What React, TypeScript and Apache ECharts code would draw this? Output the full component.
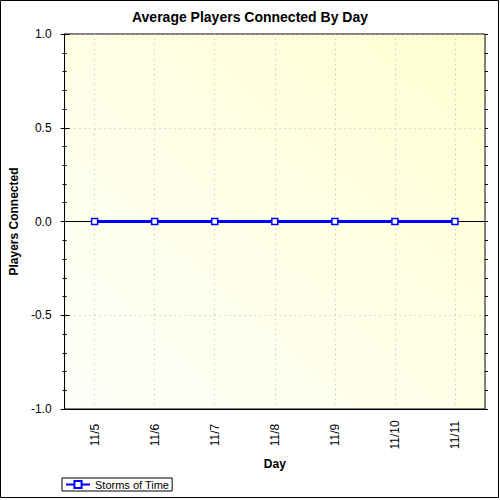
import { useEffect, useRef } from 'react'
import * as echarts from 'echarts'

// chart data
const days = ['11/5', '11/6', '11/7', '11/8', '11/9', '11/10', '11/11']
const stormsOfTime = [0, 0, 0, 0, 0, 0, 0]
const yTicks = [-1.0, -0.5, 0.0, 0.5, 1.0]

const FONT = 'Arial, "Liberation Sans", sans-serif'

export default function App() {
  const containerRef = useRef<HTMLDivElement>(null)

  useEffect(() => {
    if (!containerRef.current) return
    document.body.style.margin = '0'

    const chart = echarts.init(containerRef.current, null, { renderer: 'svg' })

    const yMin = yTicks[0]
    const yMax = yTicks[yTicks.length - 1]
    const yStep = yTicks[1] - yTicks[0]
    const gridLine = { show: true, lineStyle: { color: '#bdbdbd', type: [1, 4] as number[], width: 1 } }

    chart.setOption({
      animation: false,
      backgroundColor: '#fff',
      textStyle: { fontFamily: FONT },
      title: {
        text: 'Average Players Connected By Day',
        left: 'center',
        top: 10,
        padding: 0,
        textStyle: { fontSize: 14, fontWeight: 'bold', color: '#000', fontFamily: FONT },
      },
      graphic: [
        {
          type: 'rect',
          shape: { x: 0.5, y: 0.5, width: 498, height: 497 },
          style: { fill: 'none', stroke: '#000', lineWidth: 1 },
          silent: true,
        },
      ],
      grid: {
        left: 62,
        top: 34,
        right: 15,
        bottom: 91,
        show: true,
        borderColor: '#000',
        borderWidth: 1,
        backgroundColor: new echarts.graphic.LinearGradient(0, 1, 1, 0, [
          { offset: 0, color: '#fffffb' },
          { offset: 1, color: '#ffffd2' },
        ]),
      },
      legend: {
        data: ['Storms of Time'],
        left: 62,
        top: 478,
        orient: 'horizontal',
        borderColor: '#000',
        borderWidth: 1,
        padding: [1, 3, 1, 3],
        itemWidth: 24,
        itemHeight: 9,
        textStyle: { fontSize: 11, color: '#000', fontFamily: FONT },
      },
      xAxis: [
        {
          type: 'category',
          data: days,
          position: 'bottom',
          boundaryGap: true,
          name: 'Day',
          nameLocation: 'middle',
          nameGap: 49,
          nameTextStyle: { fontSize: 12, fontWeight: 'bold', color: '#000' },
          axisLine: { onZero: false, lineStyle: { color: '#000', width: 1 } },
          axisTick: { alignWithLabel: true, length: 4, lineStyle: { color: '#000' } },
          axisLabel: {
            rotate: 90,
            align: 'center',
            verticalAlign: 'middle',
            margin: 26,
            fontSize: 12,
            color: '#000',
            interval: 0,
          },
          splitLine: { ...gridLine, alignWithLabel: true },
        },
        {
          type: 'category',
          data: days,
          position: 'top',
          boundaryGap: true,
          axisLine: { show: false, onZero: false },
          axisTick: { alignWithLabel: true, inside: true, length: 5, lineStyle: { color: '#000' } },
          axisLabel: { show: false },
          splitLine: { show: false },
        },
        {
          type: 'category',
          data: days,
          position: 'bottom',
          boundaryGap: true,
          axisLine: { show: false, onZero: false },
          axisTick: { alignWithLabel: true, inside: true, length: 4, lineStyle: { color: '#000' } },
          axisLabel: { show: false },
          splitLine: { show: false },
        },
        {
          type: 'category',
          data: days,
          position: 'bottom',
          boundaryGap: true,
          axisLine: { show: true, onZero: true, lineStyle: { color: '#000', width: 1 } },
          axisTick: { show: false },
          axisLabel: { show: false },
          splitLine: { show: false },
        },
      ],
      yAxis: [
        {
          type: 'value',
          position: 'left',
          min: yMin,
          max: yMax,
          interval: yStep,
          name: 'Players Connected',
          nameLocation: 'middle',
          nameGap: 34,
          nameTextStyle: { fontSize: 12, fontWeight: 'bold', color: '#000' },
          axisLine: { show: true, lineStyle: { color: '#000', width: 1 } },
          axisTick: { show: true, length: 4, lineStyle: { color: '#000' } },
          minorTick: { show: true, splitNumber: 5, length: 2, lineStyle: { color: '#000' } },
          axisLabel: {
            margin: 13,
            fontSize: 12,
            color: '#000',
            formatter: (v: number) => v.toFixed(1),
          },
          splitLine: gridLine,
        },
        {
          type: 'value',
          position: 'left',
          min: yMin,
          max: yMax,
          interval: yStep,
          axisLine: { show: false },
          axisTick: { show: true, inside: true, length: 5, lineStyle: { color: '#000' } },
          minorTick: { show: true, splitNumber: 5, length: 2, lineStyle: { color: '#000' } },
          axisLabel: { show: false },
          splitLine: { show: false },
        },
        {
          type: 'value',
          position: 'right',
          min: yMin,
          max: yMax,
          interval: yStep,
          axisLine: { show: false },
          axisTick: { show: true, length: 3, lineStyle: { color: '#000' } },
          minorTick: { show: true, splitNumber: 5, length: 3, lineStyle: { color: '#000' } },
          axisLabel: { show: false },
          splitLine: { show: false },
        },
      ],
      series: [
        {
          name: 'Storms of Time',
          type: 'line',
          data: stormsOfTime,
          xAxisIndex: 0,
          yAxisIndex: 0,
          symbol: 'rect',
          symbolSize: 6,
          z: 5,
          lineStyle: { color: '#0000ff', width: 3 },
          itemStyle: { color: '#ffffff', borderColor: '#0000ff', borderWidth: 1.5 },
        },
      ],
    })

    return () => {
      chart.dispose()
    }
  }, [])

  return <div ref={containerRef} style={{ width: 500, height: 500 }} />
}
